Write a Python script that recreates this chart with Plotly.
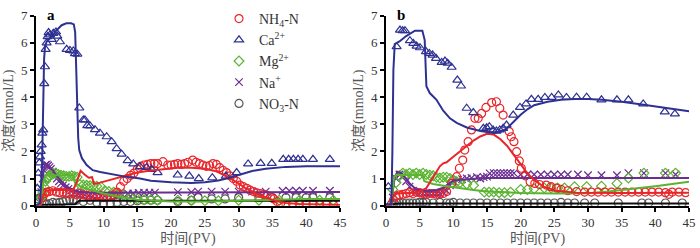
import plotly.graph_objects as go
from plotly.subplots import make_subplots

# ---------------- Panel a: observations ----------------
a_ca_x = [0.2,0.35,0.5,0.6,0.7,0.84,0.94,1.08,1.23,1.33,1.43,1.58,1.73,1.87,2.07,2.32,2.57,2.96,3.16,3.55,
          4.54,5.03,5.53,5.77,6.12,6.41,7.0,7.25,7.6,8.0,8.73,9.47,10.46,11.2,11.94,12.68,13.57,14.4,15.39,16.38,
          17.12,18.0,20.97,22.7,24.1,26.1,28.1,29.7,31.4,33.25,34.9,36.6,37.4,38.1,38.8,39.5,41.0,43.5]
a_ca_y = [0.64,1.2,1.58,1.8,2.0,2.24,2.67,2.79,4.5,5.12,5.76,6.0,6.23,6.38,6.29,6.13,6.35,6.4,6.25,6.04,
          5.76,5.72,5.7,5.6,5.58,3.6,3.16,3.16,2.95,2.94,2.8,2.67,2.54,2.36,2.1,1.9,1.66,1.54,1.44,1.41,
          1.34,1.22,1.13,1.09,1.0,1.03,1.09,1.22,1.54,1.56,1.56,1.71,1.71,1.71,1.71,1.71,1.71,1.71]

a_nh_x = [1.0,1.3,1.6,2.0,2.5,3.0,3.5,4.0,4.5,5.0,5.5,6.0,6.5,7.0,7.5,8.0,8.5,9.0,9.5,10.0,10.5,11.0,11.5,12.0,
          12.5,13.0,13.5,14.0,14.5,15.0,15.5,16.0,16.5,17.0,17.5,18.0,18.8,19.5,20.0,20.5,21.0,21.5,22.0,22.5,
          23.2,23.7,24.2,24.7,25.2,25.7,26.2,26.7,27.2,27.7,28.2,28.7,29.2,29.7,30.2,30.7,31.2,31.7,32.2,32.7,
          33.2,33.7,34.2,34.7,35.2,35.7,36.2,37.0,38.0,39.0,40.0,41.0,42.0,43.0,44.0]
a_nh_y = [0.3,0.45,0.5,0.52,0.55,0.5,0.48,0.5,0.45,0.42,0.45,0.4,0.45,0.4,0.38,0.4,0.35,0.35,0.38,0.3,0.32,0.35,0.4,0.5,
          0.7,0.9,1.0,1.12,1.2,1.35,1.45,1.5,1.52,1.55,1.55,1.55,1.62,1.5,1.5,1.52,1.55,1.52,1.55,1.6,
          1.68,1.6,1.55,1.5,1.45,1.48,1.55,1.52,1.4,1.3,1.22,1.1,1.0,0.9,0.76,0.7,0.64,0.57,0.52,0.47,
          0.45,0.42,0.38,0.32,0.25,0.15,0.08,0.05,0.05,0.05,0.05,0.05,0.05,0.05,0.05]

a_mg_x = [0.8,1.0,1.2,1.4,1.6,1.8,2.0,2.3,2.6,2.9,3.3,3.7,4.1,4.5,4.9,5.3,5.7,6.1,6.5,7.0,7.5,8.0,8.5,9.0,9.6,
          10.2,10.8,11.5,12.2,13.0,14.0,15.0,16.0,17.0,18.0,21.0,23.0,25.0,27.0,30.0,33.0,36.0,39.0,42.0,44.0]
a_mg_y = [0.3,0.5,0.7,0.9,1.0,1.05,1.1,1.15,1.18,1.2,1.15,1.12,1.1,1.08,1.08,1.1,1.08,1.05,0.78,0.76,0.75,0.74,0.74,0.72,0.7,
          0.55,0.52,0.5,0.45,0.38,0.3,0.25,0.22,0.22,0.2,0.2,0.18,0.18,0.18,0.2,0.2,0.2,0.2,0.2,0.2]

a_na_x = [0.8,1.0,1.2,1.4,1.6,1.8,2.0,2.2,2.5,2.8,3.1,3.4,3.7,4.0,4.4,4.8,5.2,5.7,6.2,6.7,7.2,7.8,8.4,9.0,9.6,
          10.2,10.8,11.4,12.0,12.8,13.6,14.4,15.2,16.0,16.8,17.6,21.0,23.0,24.0,26.0,28.0,30.0,32.0,34.0,
          36.5,37.5,38.5,39.5,41.0,43.5]
a_na_y = [0.5,1.0,1.3,1.5,1.52,1.48,1.42,1.35,1.25,1.1,1.0,0.9,0.82,0.75,0.68,0.62,0.56,0.5,0.45,0.42,0.4,0.38,0.36,0.35,0.35,
          0.35,0.36,0.38,0.38,0.4,0.45,0.45,0.47,0.48,0.48,0.48,0.5,0.5,0.52,0.52,0.52,0.52,0.52,0.52,
          0.55,0.55,0.55,0.55,0.55,0.55]

a_no_x = [0.3,0.6,0.9,1.2,1.6,2.0,2.5,3.0,3.5,4.0,4.5,5.0,5.5,6.0,7.0,8.0,9.0,10.0,11.0,12.0,13.0,14.0,15.0,16.0,
          17.0,18.0,21.0,23.0,24.0,26.0,28.0,30.0,33.0,35.0,37.0,38.5,40.0,41.0,43.5]
a_no_y = [0.25,0.3,0.3,0.1,0.05,0.08,0.12,0.1,0.12,0.15,0.2,0.22,0.22,0.2,0.15,0.2,0.12,0.1,0.1,0.12,0.15,0.15,0.18,0.2,
          0.2,0.2,0.15,0.2,0.3,0.25,0.25,0.3,0.3,0.3,0.3,0.3,0.3,0.3,0.3]

# ---------------- Panel a: simulations ----------------
a_ca_sx = [0,0.6,0.9,1.05,1.2,1.35,1.6,2.2,3,3.8,4.5,5.2,5.6,5.8,5.95,6.1,6.25,6.4,6.8,7.5,8.4,9.5,11,13,15.4,
           17,20,23,25,27,28.5,30,32,34,37,40,45]
a_ca_sy = [0,0.1,1.5,4.0,5.4,5.9,6.05,6.2,6.45,6.65,6.72,6.72,6.68,6.4,4.8,3.2,2.5,2.05,1.75,1.5,1.31,1.24,1.17,1.08,1.0,
           0.92,0.86,0.84,0.86,0.93,1.02,1.14,1.28,1.36,1.43,1.45,1.45]

a_nh_sx = [0,0.7,1.0,1.4,2.5,4,5.5,6.0,6.6,7.2,7.8,8.3,8.6,9.5,11,12.9,15,17,19,21,23,25,26.5,28,29.5,31,32.5,
           34,35.5,37,39,42,45]
a_nh_sy = [0,0.05,0.35,0.55,0.58,0.58,0.58,0.85,1.29,1.15,1.03,1.05,0.8,0.85,0.95,1.1,1.22,1.3,1.36,1.4,1.4,1.36,1.28,1.12,
           0.9,0.65,0.45,0.3,0.17,0.1,0.06,0.04,0.03]

a_mg_sx = [0,0.7,0.9,1.1,1.4,2,3,4,5,5.6,5.75,6.5,7.5,8.5,10,12,15,20,25,30,35,40,45]
a_mg_sy = [0,0.03,0.5,0.9,1.1,1.12,1.12,1.12,1.12,1.12,0.85,0.72,0.62,0.55,0.45,0.35,0.22,0.15,0.15,0.18,0.22,0.25,0.25]

a_na_sx = [0,0.7,0.9,1.1,1.4,1.8,2.5,3.2,4,4.6,5.5,6.5,8,10,12,15,20,30,45]
a_na_sy = [0,0.05,0.6,1.2,1.55,1.5,1.3,1.05,0.85,0.7,0.58,0.5,0.48,0.48,0.5,0.5,0.5,0.5,0.5]

a_no_sx = [0,5.8,6.1,6.4,10,20,30,45]
a_no_sy = [0.03,0.05,0.12,0.18,0.18,0.18,0.18,0.18]

# ---------------- Panel b: observations ----------------
b_ca_x = [0.35,1.58,2.08,2.48,2.82,3.56,4.06,4.55,5.05,5.94,6.44,6.93,7.43,8.27,8.76,9.16,9.75,10.6,11.14,11.98,
          12.97,14.46,14.95,15.35,15.9,16.4,16.9,17.4,17.9,18.9,19.9,20.8,21.6,22.6,23.6,24.6,25.6,26.8,28.3,29.8,
          32.0,34.3,36.0,38.2,41.4,42.9]
b_ca_y = [0.7,5.86,6.47,6.45,6.45,6.08,5.98,5.88,5.82,5.68,5.61,5.55,5.43,5.28,5.33,5.25,5.1,4.63,4.41,3.59,
          3.43,2.85,2.87,2.91,2.79,2.75,2.79,2.85,2.97,3.34,3.62,3.75,3.92,3.92,3.99,3.99,4.08,3.99,4.0,4.0,
          3.9,3.9,3.9,3.75,3.46,3.38]

b_nh_x = [1.1,1.5,2.0,2.5,3.0,3.5,4.0,4.5,5.0,5.5,6.0,6.5,7.0,7.5,8.0,8.5,9.0,9.75,10.5,10.9,11.4,11.7,12.2,12.7,
          13.2,13.7,14.2,14.85,15.7,16.4,16.9,17.4,18.3,18.6,19.0,19.4,19.8,20.1,20.7,21.4,22.1,22.8,23.8,24.5,
          25.3,26.0,27.0,28.3,29.5,30.5,31.5,32.5,33.5,34.5,35.5,36.5,37.5,38.5,39.5,40.5,41.5,42.0,42.5,43.5,44.5]
b_nh_y = [0.2,0.35,0.4,0.42,0.45,0.48,0.45,0.5,0.48,0.45,0.42,0.45,0.45,0.42,0.45,0.45,0.52,0.82,1.07,1.38,1.68,2.05,2.36,2.79,
          3.22,3.22,3.4,3.62,3.8,3.83,3.59,3.34,2.73,2.54,2.36,1.99,1.65,1.38,1.1,0.88,0.82,0.78,0.76,0.7,
          0.65,0.6,0.55,0.52,0.5,0.5,0.5,0.5,0.5,0.5,0.5,0.5,0.5,0.5,0.5,0.5,0.48,0.42,0.5,0.5,0.48]

b_mg_x = [1.0,1.5,2.0,2.5,3.0,3.5,4.0,4.5,5.0,5.5,6.0,6.5,7.0,7.5,8.0,8.5,9.0,9.5,10.0,10.5,11.0,12.0,13.0,
          14.6,15.3,16.0,16.8,17.6,18.5,20.0,21.0,22.0,23.5,24.5,25.5,26.5,28.0,29.8,32.0,34.3,36.0,38.3,41.5,43.0]
b_mg_y = [0.6,0.85,1.1,1.2,1.15,1.2,1.15,1.2,1.15,1.2,1.15,1.12,1.1,1.05,1.02,1.05,1.05,1.0,0.95,0.88,0.85,0.8,0.75,
          0.5,0.5,0.5,0.48,0.48,0.5,0.6,0.6,0.62,0.65,0.65,0.65,0.65,0.7,0.7,0.72,0.82,1.02,1.2,1.2,1.2]

b_na_x = [1.0,1.5,2.0,2.5,3.0,3.5,4.0,4.5,5.0,5.5,6.0,6.5,7.0,7.5,8.0,8.5,9.0,9.5,10.0,10.7,11.3,12.0,12.7,13.5,
          14.0,14.5,15.0,15.4,16.0,16.5,17.0,17.5,18.0,18.5,19.0,20.0,21.0,22.0,23.0,24.0,25.0,26.0,27.0,28.5,
          30.0,32.0,34.3,36.0,38.3,41.5,43.0]
b_na_y = [0.3,1.0,1.15,1.1,0.9,0.7,0.55,0.5,0.48,0.45,0.45,0.45,0.45,0.45,0.45,0.5,0.55,0.75,0.9,0.95,0.98,1.0,1.02,1.05,
          1.0,1.05,1.07,1.19,1.2,1.2,1.2,1.2,1.2,1.2,1.2,1.15,1.15,1.15,1.15,1.15,1.15,1.15,1.15,1.15,
          1.12,1.12,1.12,1.2,1.2,1.2,1.15]

b_no_x = [0.8,1.2,1.6,2.0,2.5,3.0,3.5,4.0,4.5,5.0,5.5,6.0,7.0,8.0,9.0,9.5,10.0,11.0,12.0,13.0,14.0,15.0,16.0,17.0,
          18.0,19.0,20.0,21.0,22.0,23.0,24.0,25.0,26.0,27.0,28.0,29.5,31.0,34.5,38.0,39.0,41.5,44.0]
b_no_y = [0.05,0.08,0.1,0.1,0.1,0.1,0.1,0.1,0.1,0.12,0.12,0.12,0.1,0.12,0.1,0.1,0.12,0.1,0.1,0.1,0.1,0.1,0.1,0.1,
          0.1,0.1,0.1,0.1,0.1,0.1,0.1,0.1,0.12,0.1,0.1,0.1,0.1,0.1,0.1,0.1,0.1,0.1]

# ---------------- Panel b: simulations ----------------
b_ca_sx = [0,0.8,0.95,1.1,1.3,2,3,4.3,5.4,5.75,6.0,6.5,7.5,8.5,9.5,10.5,12,14,16,17,18,19,20,21,22,24,26,28,
           30,32,35,38,41,45]
b_ca_sy = [0.05,0.05,2.0,5.0,5.95,6.05,6.25,6.45,6.45,6.1,4.4,4.15,3.9,3.5,3.22,3.05,2.88,2.75,2.68,2.72,2.86,3.1,3.35,
           3.55,3.7,3.83,3.9,3.93,3.93,3.9,3.83,3.73,3.62,3.48]

b_nh_sx = [0,0.8,1.2,2,3,4.3,5.5,6.0,7.0,8.0,8.5,9.0,10,11,12,13,14,15,16,17,18,19,20,21,22,23.4,25.3,28.3,35,45]
b_nh_sy = [0,0.05,0.42,0.46,0.47,0.48,0.58,0.65,1.05,1.45,1.56,1.6,1.8,2.0,2.2,2.4,2.55,2.65,2.62,2.45,2.2,1.87,1.5,
           1.19,0.95,0.7,0.55,0.48,0.47,0.48]

b_mg_sx = [0,0.8,1.0,1.2,1.5,3,5.4,5.7,7,9,11,13,15,20,25,30,33,36,40,45]
b_mg_sy = [0,0.03,0.6,1.05,1.13,1.13,1.13,0.9,0.8,0.72,0.64,0.58,0.52,0.47,0.45,0.46,0.52,0.6,0.72,0.88]

b_na_sx = [0,0.8,1.0,1.3,1.7,2.3,3,3.6,4.5,5.5,6.7,7.5,8.4,9.2,10,11,12,13,15,20,30,45]
b_na_sy = [0,0.03,0.5,1.05,1.25,1.2,1.0,0.8,0.6,0.55,0.55,0.58,0.65,0.8,0.92,0.96,0.98,1.0,1.02,1.02,1.02,1.02]

b_no_sx = [0,1.0,2,45]
b_no_sy = [0.03,0.06,0.08,0.08]

# ---------------- Styling ----------------
legend_names = ["NH<sub>4</sub>-N", "Ca<sup>2+</sup>", "Mg<sup>2+</sup>", "Na<sup>+</sup>", "NO<sub>3</sub>-N"]
colors = ["#e8262a", "#2e3192", "#5bb331", "#6a2d91", "#555555"]
line_colors = ["#e8262a", "#2e3192", "#5bb331", "#6a2d91", "#111111"]
symbols = ["circle-open", "triangle-up-open", "diamond-open", "x-thin-open", "circle-open"]
sizes = [8, 8, 7.5, 7.5, 8]

FONT = "Liberation Serif, Times New Roman, Noto Sans CJK SC, serif"

fig = make_subplots(rows=1, cols=2, horizontal_spacing=0.06)

panels = [
    (1, [(a_nh_x, a_nh_y), (a_ca_x, a_ca_y), (a_mg_x, a_mg_y), (a_na_x, a_na_y), (a_no_x, a_no_y)],
        [(a_nh_sx, a_nh_sy), (a_ca_sx, a_ca_sy), (a_mg_sx, a_mg_sy), (a_na_sx, a_na_sy), (a_no_sx, a_no_sy)]),
    (2, [(b_nh_x, b_nh_y), (b_ca_x, b_ca_y), (b_mg_x, b_mg_y), (b_na_x, b_na_y), (b_no_x, b_no_y)],
        [(b_nh_sx, b_nh_sy), (b_ca_sx, b_ca_sy), (b_mg_sx, b_mg_sy), (b_na_sx, b_na_sy), (b_no_sx, b_no_sy)]),
]

order = [4, 3, 2, 0, 1]
for col, obs, sims in panels:
    for i in order:
        x, y = obs[i]
        fig.add_trace(go.Scatter(
            x=x, y=y, mode="markers", name=legend_names[i],
            legendrank=i + 1,
            showlegend=(col == 1),
            marker=dict(symbol=symbols[i], size=sizes[i], color=colors[i],
                        line=dict(width=1.2, color=colors[i])),
        ), row=1, col=col)
    for i in order:
        x, y = sims[i]
        fig.add_trace(go.Scatter(
            x=x, y=y, mode="lines", showlegend=False,
            line=dict(color=line_colors[i], width=2),
        ), row=1, col=col)

axis_common = dict(
    showline=True, linecolor="black", linewidth=2, mirror=False,
    ticks="outside", ticklen=4, tickwidth=1.5, tickcolor="black",
    showgrid=False, zeroline=False, automargin=False,
    tickfont=dict(family=FONT, size=13, color="#333333"),
)
for col, dom in [(1, [0.0514, 0.4857]), (2, [0.5514, 0.9843])]:
    fig.update_xaxes(range=[0, 45], dtick=5, domain=dom, row=1, col=col,
                     title=dict(text="时间(PV)", font=dict(family=FONT, size=14, color="#555555"), standoff=4),
                     **axis_common)
    fig.update_yaxes(range=[0, 7], dtick=1, domain=[0.1706, 0.9367], row=1, col=col,
                     title=dict(text="浓度(mmol/L)", font=dict(family=FONT, size=14, color="#555555"), standoff=4),
                     **axis_common)

fig.add_annotation(text="<b>a</b>", xref="paper", yref="paper", x=(51 / 700), y=(1 - 15 / 248),
                   xanchor="center", yanchor="middle",
                   showarrow=False, font=dict(family=FONT, size=15, color="black"))
fig.add_annotation(text="<b>b</b>", xref="paper", yref="paper", x=(401 / 700), y=(1 - 15 / 248),
                   xanchor="center", yanchor="middle",
                   showarrow=False, font=dict(family=FONT, size=15, color="black"))

fig.update_layout(
    width=700, height=248,
    margin=dict(l=0, r=0, t=0, b=0, autoexpand=False),
    paper_bgcolor="white", plot_bgcolor="white",
    showlegend=True,
    legend=dict(x=219 / 700, y=1 - 3 / 248, xanchor="left", yanchor="top",
                bgcolor="rgba(0,0,0,0)", font=dict(family=FONT, size=14, color="#333333"),
                itemwidth=30, tracegroupgap=0),
)

fig.write_html("out.html", config={"displayModeBar": False},
               post_script="document.body.style.margin='0px';document.body.style.overflow='hidden';")
